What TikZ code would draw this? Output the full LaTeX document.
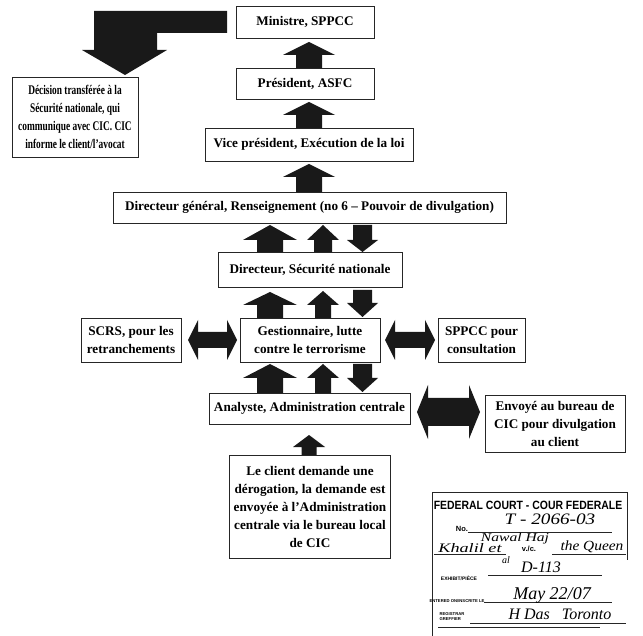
\documentclass[tikz,border=0pt]{standalone}
\usepackage{fontspec}
\setmainfont{Liberation Serif}
\newfontfamily\stampsans{Liberation Sans}
\newcommand\uparr[6]{\fill[blk] ({#1-#5},#3) -- (#1,#2) -- ({#1+#5},#3) -- ({#1+#6},#3) -- ({#1+#6},#4) -- ({#1-#6},#4) -- ({#1-#6},#3) -- cycle;}
\newcommand\dnarr[6]{\fill[blk] ({#1-#6},#2) -- ({#1+#6},#2) -- ({#1+#6},#3) -- ({#1+#5},#3) -- (#1,#4) -- ({#1-#5},#3) -- ({#1-#6},#3) -- cycle;}
\newcommand\dblarr[6]{\fill[blk] (#1,#3) -- ({#1+#6},{#3-#4}) -- ({#1+#6},{#3-#5}) -- ({#2-#6},{#3-#5}) -- ({#2-#6},{#3-#4}) -- (#2,#3) -- ({#2-#6},{#3+#4}) -- ({#2-#6},{#3+#5}) -- ({#1+#6},{#3+#5}) -- ({#1+#6},{#3+#4}) -- cycle;}
\tikzset{
  box/.style={draw=black!85, line width=0.9pt, inner sep=0pt, align=center,
    font=\fontsize{13.2}{18}\selectfont\bfseries},
  blk/.style={fill=black!90},
  hand/.style={inner sep=0pt},
  stampline/.style={line width=0.7pt, black!85},
  tiny/.style={inner sep=0pt, align=left, font=\stampsans\bfseries\fontsize{4.2}{5}\selectfont},
}
\begin{document}
\begin{tikzpicture}[x=1pt,y=-1pt]
\useasboundingbox (0,0) rectangle (643,636);
% boxes
\node[box, minimum width=138, minimum height=32] (min) at (305,22) {Ministre, SPPCC};
\node[box, minimum width=138, minimum height=31] (pres) at (305,83.5) {Président, ASFC};
\node[box, minimum width=208, minimum height=33] (vice) at (309,144.5) {Vice président, Exécution de la loi};
\node[box, minimum width=393, minimum height=31] (dg) at (309.5,207.5) {Directeur général, Renseignement (no 6 – Pouvoir de divulgation)};
\node[box, minimum width=184, minimum height=35] (dir) at (310,269.5) {Directeur, Sécurité nationale};
\node[box, minimum width=140, minimum height=44] (gest) at (310,340) {Gestionnaire, lutte\\contre le terrorisme};
\node[box, minimum width=100, minimum height=44] (scrs) at (131,340) {SCRS, pour les\\retranchements};
\node[box, minimum width=87, minimum height=44] (sppcc) at (481.5,340) {SPPCC pour\\consultation};
\node[box, minimum width=201, minimum height=31] (ana) at (309.5,408.5) {Analyste, Administration centrale};
\node[box, minimum width=140, minimum height=57] (env) at (555,423.5) {Envoyé au bureau de\\CIC pour divulgation\\au client};
\node[box, minimum width=161, minimum height=103] (client) at (310,506.5) {Le client demande une\\dérogation, la demande est\\envoyée à l'Administration\\centrale via le bureau local\\de CIC};
\node[box, minimum width=126, minimum height=80] (dec) at (75,117) {};
\node[box, draw=none, xscale=0.71] (dectext) at (dec.center) {Décision transférée à la\\Sécurité nationale, qui\\communique avec CIC. CIC\\informe le client/l'avocat};
% big L-shaped arrow
\fill[blk] (227,11) -- (94,11) -- (94,50) -- (82,50) -- (125,75) -- (167,50) -- (157,50) -- (157,33) -- (227,33) -- cycle;
% vertical arrows
\uparr{309}{42}{55}{68}{26}{13}
\uparr{309}{102}{115}{128}{26}{13}
\uparr{309}{164}{177}{192}{26}{13}
\uparr{270}{225}{240}{252}{27}{13}
\uparr{323}{225}{240}{252}{16}{9}
\dnarr{362.5}{225}{240}{252}{15.5}{9.5}
\uparr{270}{292}{305}{318}{27}{13}
\uparr{323}{291}{305}{318}{16}{8}
\dnarr{362.5}{290}{303}{317}{15.5}{9.5}
\uparr{270}{364}{378}{393}{27}{13}
\uparr{323}{364}{378}{393}{16}{8}
\dnarr{362.5}{364}{378}{392}{15.5}{9.5}
\uparr{309}{435}{447}{455}{16}{7.5}
% horizontal double arrows
\dblarr{188}{237}{340}{20}{8}{10}
\dblarr{385}{435}{340}{20}{8}{10}
\dblarr{417}{480}{412}{27}{14}{11}
% stamp
\draw[stampline] (432,636) -- (432,492) -- (627,492) -- (627,560);
\draw[stampline, line width=0.5pt] (438,627) -- (600,627);
\draw[stampline, line width=0.4pt] (468,532) -- (612,532);
\draw[stampline, line width=0.4pt] (434,554) -- (506,554);
\draw[stampline, line width=0.4pt] (552,554) -- (626,554);
\draw[stampline, line width=0.4pt] (488,575) -- (602,575);
\draw[stampline, line width=0.4pt] (484,602) -- (612,602);
\draw[stampline, line width=0.4pt] (470,623) -- (626,623);
\node[inner sep=0pt, font=\stampsans\bfseries\fontsize{12}{12}\selectfont, xscale=0.87] (sthead) at (528,505) {FEDERAL COURT - COUR FEDERALE};
\node[inner sep=0pt, font=\stampsans\bfseries\fontsize{7.5}{8}\selectfont] (stno) at (462,529) {No.};
\node[hand, font=\itshape\fontsize{16}{16}\selectfont, xscale=1.2] (stnum) at (550,519) {T - 2066-03};
\node[hand, font=\itshape\fontsize{12}{12}\selectfont, xscale=1.3] (stn1) at (515,539) {Nawal Haj};
\node[hand, font=\itshape\fontsize{13}{13}\selectfont, xscale=1.4] (stn2) at (470,548) {Khalil et};
\node[inner sep=0pt, font=\stampsans\bfseries\fontsize{7.5}{8}\selectfont] (stvc) at (529,549) {v./c.};
\node[hand, font=\itshape\fontsize{14}{14}\selectfont, xscale=1.1] (stq) at (592,547) {the Queen};
\node[hand, font=\itshape\fontsize{10}{10}\selectfont] (stal) at (506,560) {al};
\node[hand, font=\itshape\fontsize{16}{16}\selectfont] (stex) at (541,567) {D-113};
\node[tiny, font=\stampsans\bfseries\fontsize{5}{5}\selectfont] (stl1) at (459,578) {EXHIBIT/PIÈCE};
\node[hand, font=\itshape\fontsize{18}{18}\selectfont] (stdate) at (552,595) {May 22/07};
\node[tiny] (stl2) at (457,601) {ENTERED ON/INSCRITE LE};
\node[hand, font=\itshape\fontsize{16}{16}\selectfont] (streg) at (560,614) {H Das \ \ Toronto};
\node[tiny] (stl3) at (452,617) {REGISTRAR\\GREFFIER};
\end{tikzpicture}
\end{document}
